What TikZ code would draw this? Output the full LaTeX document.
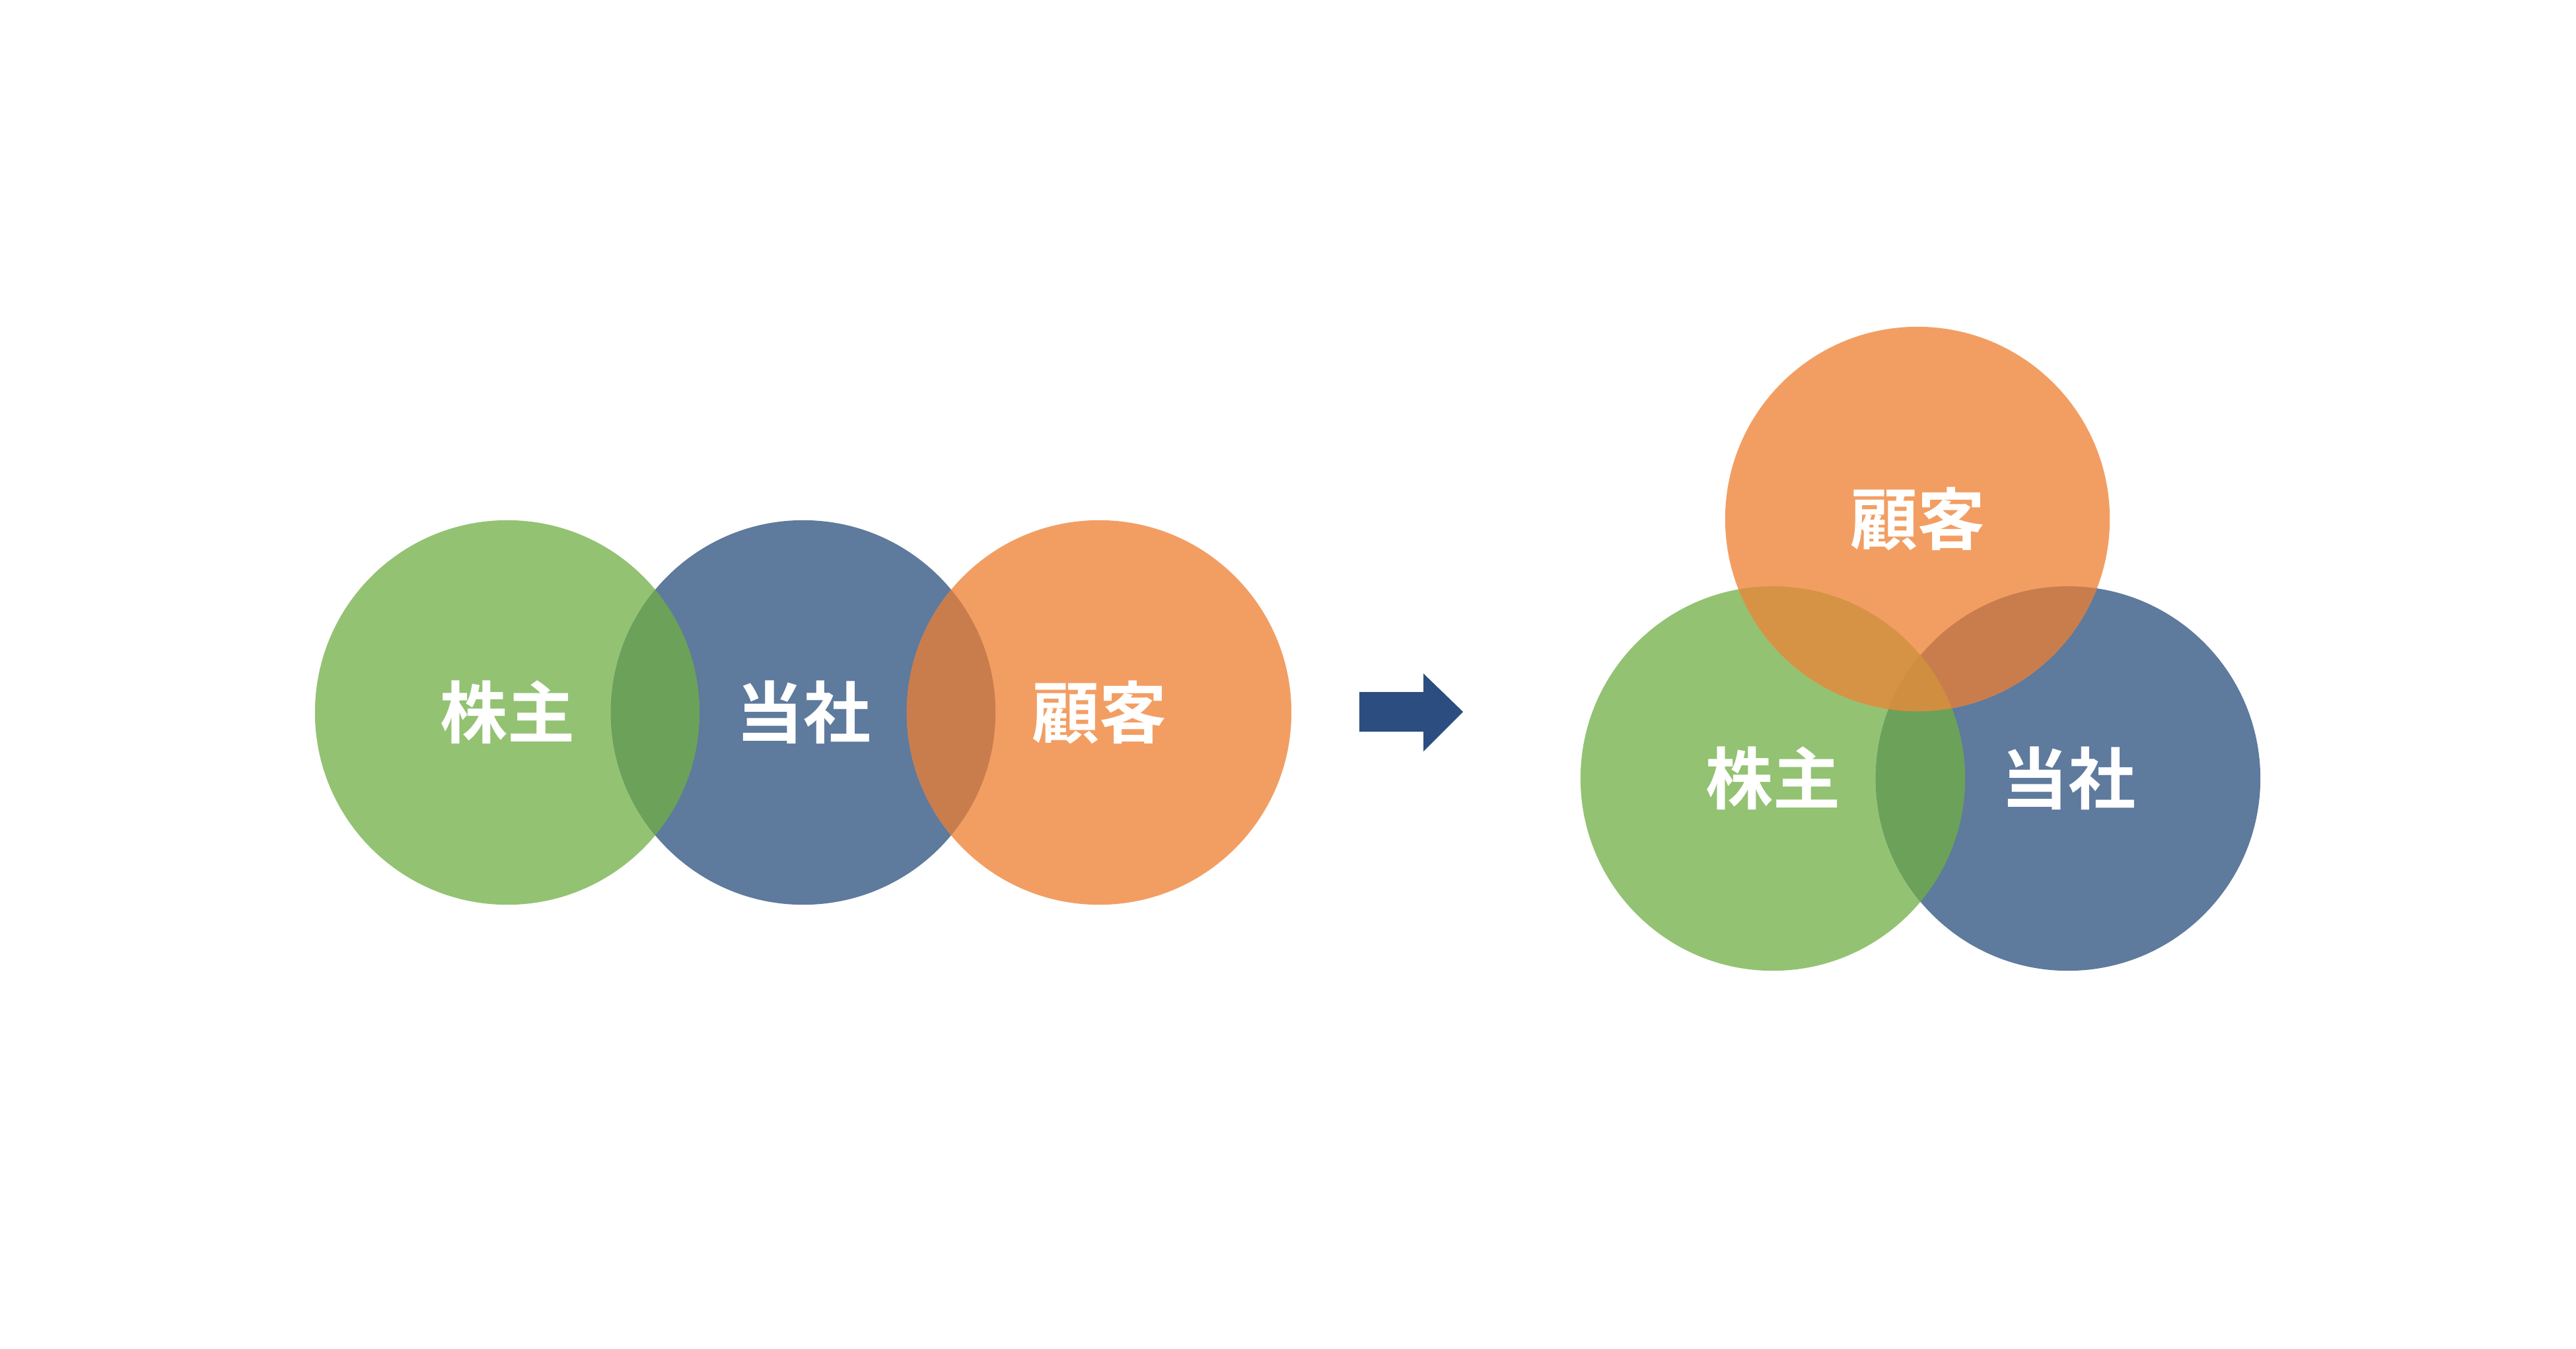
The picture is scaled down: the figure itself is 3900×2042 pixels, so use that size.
\documentclass[tikz,border=0pt]{standalone}
\usepackage{fontspec}
\newfontfamily\cjk{Noto Sans CJK JP Bold}
\definecolor{cgreen}{HTML}{93C273}
\definecolor{cblue}{HTML}{5E7A9D}
\definecolor{corange}{HTML}{F29E63}
\definecolor{cgb}{HTML}{6CA15A}
\definecolor{cob}{HTML}{C97D4D}
\definecolor{cog}{HTML}{D69345}
\definecolor{cogb}{HTML}{D08E40}
\definecolor{carrow}{HTML}{2C4D80}
\tikzset{
  disc/.style={circle, minimum size=5.82cm, inner sep=0pt, draw=none},
  lbl/.style={text=white, font=\cjk\fontsize{29}{29}\selectfont, inner sep=0pt},
}
\newcommand{\ovl}[3]{\begin{scope}\clip (#1) circle[radius=2.91cm]; \fill[#3] (#2) circle[radius=2.91cm];\end{scope}}
\begin{document}
\begin{tikzpicture}[x=0.01cm,y=-0.01cm]
\useasboundingbox[fill=white] (0,0) rectangle (3900,2042);
% left group
\node[disc, fill=cgreen] (g1) at (768,1079) {};
\node[disc, fill=cblue] (b1) at (1216,1079) {};
\node[disc, fill=corange] (o1) at (1664,1079) {};
\ovl{g1.center}{b1.center}{cgb}
\ovl{b1.center}{o1.center}{cob}
\node[lbl] (t1) at (g1.center) {株主};
\node[lbl] (t2) at (b1.center) {当社};
\node[lbl] (t3) at (o1.center) {顧客};
% arrow
\coordinate (a1) at (2058,1048);
\coordinate (a2) at (2155,1048);
\coordinate (a3) at (2155,1020);
\coordinate (a4) at (2215,1078);
\coordinate (a5) at (2155,1138);
\coordinate (a6) at (2155,1108);
\coordinate (a7) at (2058,1108);
\fill[carrow] (a1) -- (a2) -- (a3) -- (a4) -- (a5) -- (a6) -- (a7) -- cycle;
% right group
\node[disc, fill=cgreen] (g2) at (2684,1179) {};
\node[disc, fill=cblue] (b2) at (3131,1179) {};
\node[disc, fill=corange] (o2) at (2903,786) {};
\ovl{g2.center}{b2.center}{cgb}
\ovl{o2.center}{g2.center}{cog}
\ovl{o2.center}{b2.center}{cob}
\begin{scope}
\clip (o2.center) circle[radius=2.91cm];
\clip (g2.center) circle[radius=2.91cm];
\fill[cogb] (b2.center) circle[radius=2.91cm];
\end{scope}
\node[lbl] (t4) at (o2.center) {顧客};
\node[lbl] (t5) at (g2.center) {株主};
\node[lbl] (t6) at (b2.center) {当社};
\end{tikzpicture}
\end{document}
